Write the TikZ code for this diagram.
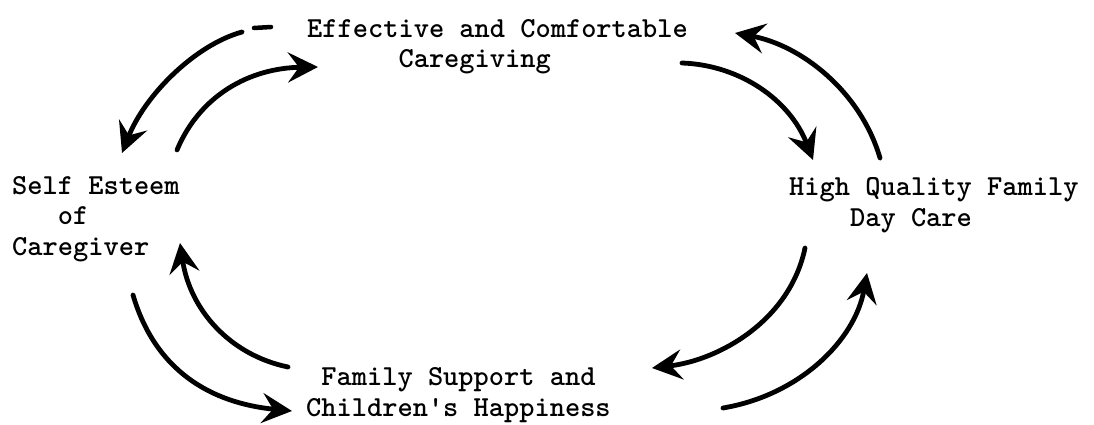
\documentclass[tikz,border=0pt]{standalone}
\usepackage{fontspec}
\usetikzlibrary{arrows.meta}
\tikzset{
  lbl/.style={anchor=base west, inner sep=0pt, align=left, font=\ttfamily\bfseries\fontsize{29}{30.5}\selectfont},
  flow/.style={line width=4.8pt, line cap=round, -{Stealth[length=30pt,width=30pt,inset=11pt]}},
  plain/.style={line width=4.5pt, line cap=round}
}
\begin{document}
\begin{tikzpicture}[x=1pt,y=-1pt]
\useasboundingbox (0,0) rectangle (1094,425);
% labels (anchor = baseline of the last line)
\node[lbl] (care) at (307,68) {Effective and Comfortable\\\hphantom{Effect}Caregiving};
\node[lbl] (self) at (12,255) {Self Esteem\\\hphantom{Sel}of\\Caregiver};
\node[lbl] (high) at (789,226) {High Quality Family\\\hphantom{High}Day Care};
\node[lbl] (fam) at (306,416) {\hphantom{C}Family Support and\\Children's Happiness};
% arrow end points
\coordinate (a1s) at (242,32);  \coordinate (a1e) at (122,153);
\coordinate (d1) at (254,28);   \coordinate (d2) at (271,27);
\coordinate (a2s) at (177,150); \coordinate (a2e) at (318,67);
\coordinate (a3s) at (682,63);  \coordinate (a3e) at (813,160);
\coordinate (a4s) at (880,158); \coordinate (a4e) at (735,33);
\coordinate (a5s) at (133,295); \coordinate (a5e) at (292,411);
\coordinate (a6s) at (288,367); \coordinate (a6e) at (180,243);
\coordinate (a7s) at (805,248); \coordinate (a7e) at (652,368);
\coordinate (a8s) at (723,408); \coordinate (a8e) at (867,273);
% arrows
\draw[plain] (d1) -- (d2);
\draw[flow] (a1s) .. controls (195,45) and (145,95) .. (a1e);
\draw[flow] (a2s) .. controls (200,95) and (250,68) .. (a2e);
\draw[flow] (a3s) .. controls (740,65) and (790,100) .. (a3e);
\draw[flow] (a4s) .. controls (860,90) and (800,45) .. (a4e);
\draw[flow] (a5s) .. controls (155,370) and (210,403) .. (a5e);
\draw[flow] (a6s) .. controls (230,355) and (190,310) .. (a6e);
\draw[flow] (a7s) .. controls (790,320) and (720,360) .. (a7e);
\draw[flow] (a8s) .. controls (800,395) and (855,340) .. (a8e);
\end{tikzpicture}
\end{document}
